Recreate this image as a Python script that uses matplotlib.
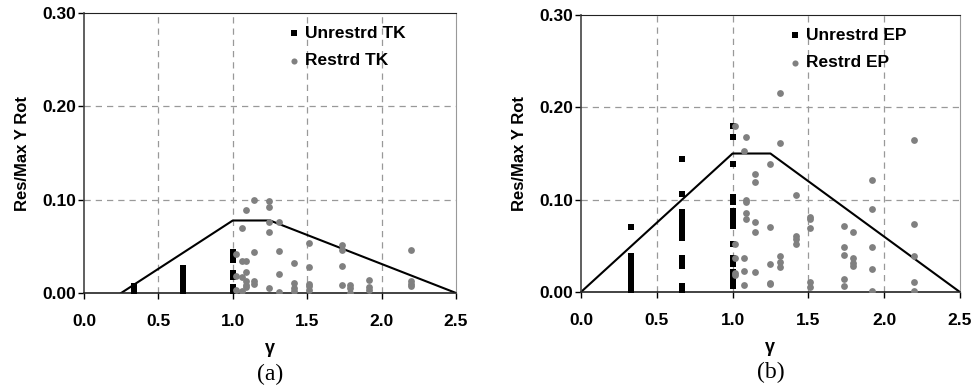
import matplotlib.pyplot as plt
import numpy as np

# panel (a) - TK
tk_line_x = [0.25, 1.0, 1.25, 2.5]
tk_line_y = [0.0, 0.0777, 0.0777, 0.0]

tk_unres_x = [0.333] * 5 + [0.667] * 14 + [1.0] * 12
tk_unres_y = [0.000, 0.002, 0.004, 0.006, 0.007,
              0.000, 0.002, 0.004, 0.006, 0.008, 0.010, 0.012, 0.014,
              0.016, 0.018, 0.020, 0.022, 0.024, 0.027,
              0.001, 0.003, 0.005, 0.006,
              0.017, 0.019, 0.021,
              0.035, 0.037, 0.039, 0.041, 0.044]

tk_res_x = [1.02, 1.02, 1.02, 1.065, 1.065, 1.065, 1.065, 1.087, 1.087, 1.087,
            1.087, 1.087, 1.087, 1.143, 1.143, 1.143, 1.143, 1.244, 1.244, 1.244,
            1.244, 1.244, 1.312, 1.312, 1.312, 1.312, 1.41, 1.41, 1.41, 1.41,
            1.511, 1.511, 1.511, 1.511, 1.511, 1.733, 1.733, 1.733, 1.733,
            1.79, 1.79, 1.79, 1.915, 1.915, 1.915, 2.195, 2.195, 2.195, 2.195]
tk_res_y = [0.042, 0.0185, 0.0036, 0.0695, 0.034, 0.017, 0.0025, 0.089, 0.034, 0.023,
            0.0125, 0.009, 0.006, 0.0998, 0.0435, 0.0125, 0.0096, 0.0987, 0.0926, 0.0766,
            0.065, 0.005, 0.0766, 0.0445, 0.0207, 0.0014, 0.032, 0.0107, 0.005, 0.0025,
            0.0534, 0.0274, 0.010, 0.007, 0.0036, 0.0517, 0.0456, 0.0285, 0.0082,
            0.0082, 0.005, 0.0004, 0.0142, 0.0064, 0.0036, 0.0456, 0.0125, 0.010, 0.007]

# panel (b) - EP
ep_line_x = [0.0, 1.0, 1.25, 2.5]
ep_line_y = [0.0, 0.15, 0.15, 0.0]

ep_unres_x = [0.333] * 21 + [0.667] * 18 + [1.0] * 21
ep_unres_y = [0.070,
              0.001, 0.003, 0.005, 0.007, 0.009, 0.011, 0.013, 0.015, 0.017, 0.019,
              0.021, 0.023, 0.025, 0.027, 0.029, 0.031, 0.033, 0.035, 0.037, 0.039,
              0.144, 0.106,
              0.058, 0.062, 0.066, 0.070, 0.074, 0.078, 0.082, 0.087,
              0.028, 0.031, 0.034, 0.037,
              0.002, 0.004, 0.006, 0.007,
              0.180, 0.168, 0.139, 0.103, 0.097,
              0.088, 0.084, 0.080, 0.076, 0.071,
              0.052, 0.037, 0.030,
              0.022, 0.019, 0.017, 0.014, 0.012, 0.010, 0.008, 0.0065]

ep_res_x = [1.016, 1.016, 1.016, 1.016, 1.016, 1.088, 1.075, 1.088, 1.088, 1.088,
            1.088, 1.075, 1.075, 1.075, 1.148, 1.148, 1.148, 1.148, 1.148,
            1.247, 1.247, 1.247, 1.247, 1.247, 1.313, 1.313, 1.313, 1.313, 1.313,
            1.418, 1.418, 1.418, 1.418, 1.51, 1.51, 1.51, 1.51, 1.51,
            1.735, 1.735, 1.735, 1.735, 1.735, 1.792, 1.792, 1.792, 1.792,
            1.922, 1.922, 1.922, 1.922, 1.922, 2.199, 2.199, 2.199, 2.199, 2.199]
ep_res_y = [0.180, 0.052, 0.0365, 0.021, 0.018, 0.168, 0.153, 0.100, 0.098, 0.086,
            0.079, 0.0365, 0.0227, 0.0072, 0.128, 0.119, 0.0755, 0.0646, 0.0217,
            0.1386, 0.0708, 0.030, 0.0101, 0.0083, 0.215, 0.161, 0.039, 0.0329, 0.0274,
            0.105, 0.0606, 0.057, 0.052, 0.0816, 0.079, 0.0693, 0.0112, 0.0058,
            0.0718, 0.0484, 0.040, 0.0137, 0.0065, 0.0646, 0.0365, 0.0318, 0.0285,
            0.121, 0.0895, 0.0484, 0.0253, 0.0014, 0.1646, 0.0733, 0.0394, 0.0108, 0.0014]

xticks = [0.0, 0.5, 1.0, 1.5, 2.0, 2.5]
yticks = [0.0, 0.1, 0.2, 0.3]

plt.rcParams['font.family'] = ['Liberation Sans', 'DejaVu Sans']


def plot_panel(ax, line_x, line_y, ux, uy, rx, ry, unres_label, res_label, caption):
    ax.plot(line_x, line_y, color='black', lw=1.5, zorder=2)
    ax.scatter(ux, uy, marker='s', s=24, color='black', linewidths=0,
               label=unres_label, zorder=3)
    ax.scatter(rx, ry, marker='o', s=24, color='#808080', linewidths=0,
               label=res_label, zorder=3)

    ax.set_xlim(0, 2.5)
    ax.set_ylim(0, 0.3)
    ax.set_xticks(xticks)
    ax.set_yticks(yticks)
    ax.set_xticklabels(['%.1f' % v for v in xticks], fontweight='bold', fontsize=12.5)
    ax.set_yticklabels(['%.2f' % v for v in yticks], fontweight='bold', fontsize=12.5)
    ax.tick_params(direction='out', length=4, width=1)
    ax.tick_params(axis='x', pad=11)
    ax.tick_params(axis='y', pad=1.5)

    for v in [0.5, 1.0, 1.5, 2.0]:
        ax.axvline(v, color='#999999', lw=0.9, ls=(0, (5, 4)), zorder=1)
    for v in [0.1, 0.2]:
        ax.axhline(v, color='#999999', lw=0.9, ls=(0, (5, 4)), zorder=1)

    ax.spines['top'].set_color('#222222')
    ax.spines['right'].set_color('#999999')
    ax.spines['left'].set_color('#444444')
    ax.spines['bottom'].set_color('#222222')
    ax.spines['left'].set_linewidth(1.2)
    ax.spines['bottom'].set_linewidth(1.2)

    ax.set_xlabel('γ', fontweight='bold', fontsize=13, labelpad=8)
    ax.set_ylabel('Res/Max Y Rot', fontweight='bold', fontsize=12, labelpad=9)

    ax.legend(loc='upper left', bbox_to_anchor=(0.546, 0.955), frameon=False,
              prop={'weight': 'bold', 'size': 12.5}, handletextpad=0.23,
              labelspacing=0.72, borderpad=0, borderaxespad=0,
              handlelength=0.8, markerscale=0.9)

    ax.text(0.5, -0.29, caption, transform=ax.transAxes, ha='center', va='center',
            fontsize=17, family='Liberation Serif')


fig = plt.figure(figsize=(9.74, 3.92), dpi=100)
ax1 = fig.add_axes([0.0862, 0.2526, 0.382, 0.714])
ax2 = fig.add_axes([0.5965, 0.2551, 0.389, 0.7066])

plot_panel(ax1, tk_line_x, tk_line_y, tk_unres_x, tk_unres_y, tk_res_x, tk_res_y,
           'Unrestrd TK', 'Restrd TK', '(a)')
plot_panel(ax2, ep_line_x, ep_line_y, ep_unres_x, ep_unres_y, ep_res_x, ep_res_y,
           'Unrestrd EP', 'Restrd EP', '(b)')

fig.savefig('out.png', dpi=100)
